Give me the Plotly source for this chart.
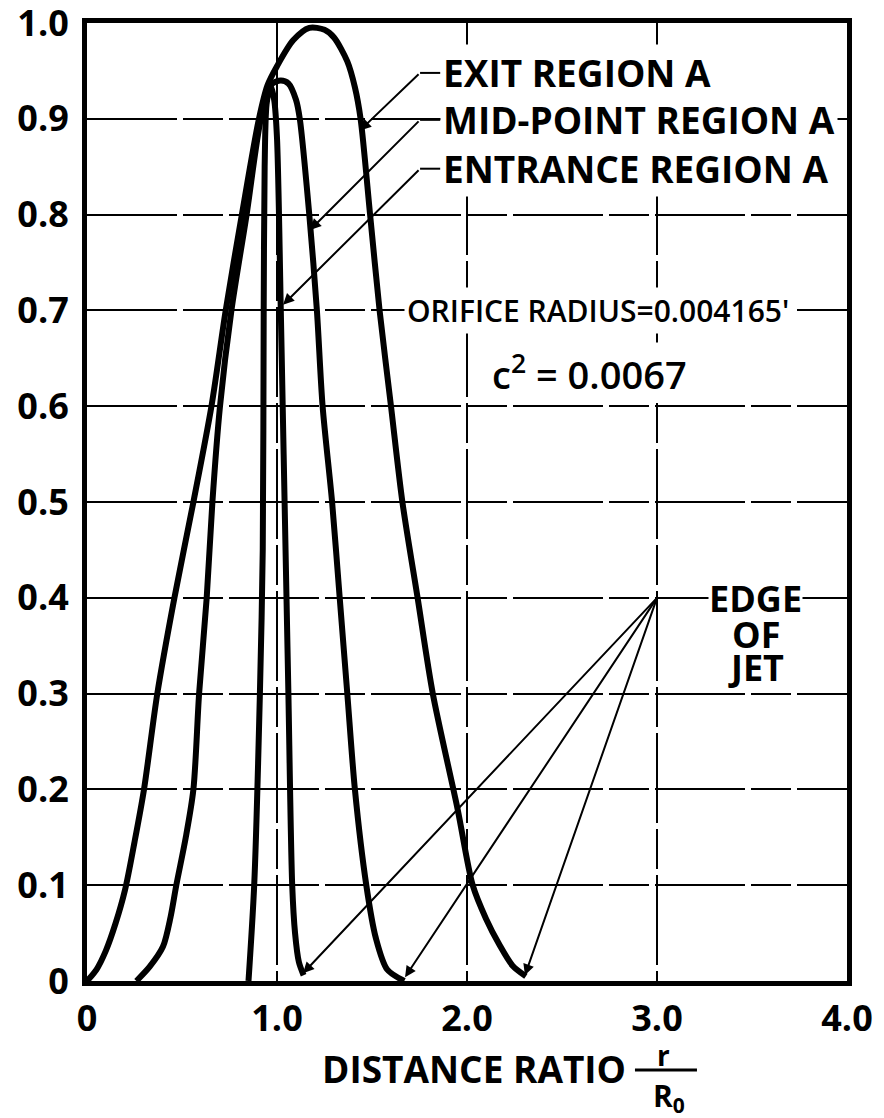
import plotly.graph_objects as go

# ---------------- data ----------------
exit_x = [0.00, 0.05, 0.10, 0.15, 0.20, 0.25, 0.30, 0.37, 0.46, 0.56, 0.655, 0.73, 0.815, 0.905, 0.95, 1.00,
          1.085, 1.17, 1.25, 1.30, 1.37, 1.41, 1.44, 1.49, 1.54, 1.60, 1.66, 1.74, 1.82, 1.95,
          2.03, 2.10, 2.17, 2.24, 2.31]
exit_y = [0.000, 0.012, 0.032, 0.060, 0.095, 0.145, 0.200, 0.300, 0.400, 0.500, 0.600, 0.700, 0.800, 0.900, 0.935, 0.955,
          0.982, 0.995, 0.993, 0.985, 0.960, 0.933, 0.900, 0.800, 0.700, 0.600, 0.500, 0.400, 0.300, 0.180,
          0.100, 0.065, 0.038, 0.016, 0.005]

mid_x = [0.26, 0.33, 0.40, 0.44, 0.47, 0.52, 0.56, 0.59, 0.63, 0.66, 0.70, 0.76, 0.84, 0.915,
         0.97, 1.02, 1.06, 1.10, 1.12, 1.17, 1.21, 1.24, 1.29, 1.33, 1.37, 1.41, 1.47, 1.52,
         1.58, 1.67]
mid_y = [0.000, 0.015, 0.036, 0.067, 0.100, 0.150, 0.200, 0.300, 0.400, 0.500, 0.600, 0.700, 0.800, 0.900,
         0.936, 0.940, 0.937, 0.920, 0.900, 0.800, 0.700, 0.600, 0.500, 0.400, 0.300, 0.200, 0.100, 0.045,
         0.012, 0.000]

ent_x = [0.85, 0.88, 0.91, 0.925, 0.93, 0.935, 0.945, 0.965, 0.985, 1.00, 1.02, 1.03, 1.04,
         1.05, 1.06, 1.08, 1.095, 1.115, 1.14]
ent_y = [0.000, 0.100, 0.300, 0.450, 0.700, 0.850, 0.915, 0.935, 0.920, 0.880, 0.700, 0.600, 0.500,
         0.400, 0.300, 0.100, 0.050, 0.020, 0.006]

x_tickvals = [0, 1, 2, 3, 4]
x_ticktext = ["0", "1.0", "2.0", "3.0", "4.0"]
y_tickvals = [0, 0.1, 0.2, 0.3, 0.4, 0.5, 0.6, 0.7, 0.8, 0.9, 1.0]
y_ticktext = ["0", "0.1", "0.2", "0.3", "0.4", "0.5", "0.6", "0.7", "0.8", "0.9", "1.0"]

curve_labels = ["EXIT REGION A", "MID-POINT REGION A", "ENTRANCE REGION A"]
edge_label = ["EDGE", "OF", "JET"]

# ---------------- layout / positions ----------------
FONT = "Open Sans"
fig = go.Figure()

for xs, ys in [(exit_x, exit_y), (mid_x, mid_y), (ent_x, ent_y)]:
    fig.add_trace(go.Scatter(x=xs, y=ys, mode="lines",
                             line=dict(color="black", width=6, shape="spline", smoothing=0.8),
                             showlegend=False, hoverinfo="skip"))

annotations = []
shapes = []

# curve labels with leader lines (corner -> tip on curve)
label_pos = [  # text-left x, y, corner x, tip x, tip y
    (1.86, 0.948, 1.753, 1.437, 0.888),
    (1.86, 0.899, 1.753, 1.174, 0.784),
    (1.86, 0.848, 1.753, 1.032, 0.706),
]
for txt, (tx, ty, cx, px, py) in zip(curve_labels, label_pos):
    annotations.append(dict(x=tx, y=ty, xref="x", yref="y", text=txt, showarrow=False,
                            xanchor="left", yanchor="middle", bgcolor="white", borderpad=2,
                            font=dict(family=FONT, size=37, color="black", weight=700)))
    annotations.append(dict(x=px, y=py, xref="x", yref="y", ax=cx, ay=ty, axref="x", ayref="y",
                            text="", showarrow=True, arrowhead=2, arrowsize=1.1, arrowwidth=2,
                            arrowcolor="black", standoff=0, startstandoff=0))
    shapes.append(dict(type="line", xref="x", yref="y", x0=cx, x1=tx, y0=ty, y1=ty,
                       line=dict(color="black", width=2)))

annotations.append(dict(x=2.69, y=0.700, xref="x", yref="y", text="ORIFICE RADIUS=0.004165'",
                        showarrow=False, xanchor="center", yanchor="middle", bgcolor="white", borderpad=2,
                        font=dict(family=FONT, size=30, color="black", weight=600)))
annotations.append(dict(x=2.647, y=0.635, xref="x", yref="y", text="c<sup>2</sup> = 0.0067",
                        showarrow=False, xanchor="center", yanchor="middle", bgcolor="white", borderpad=2,
                        font=dict(family=FONT, size=38, color="black", weight=600)))

# edge of jet
edge_y = [0.399, 0.362, 0.327]
for txt, ey in zip(edge_label, edge_y):
    annotations.append(dict(x=3.52, y=ey, xref="x", yref="y", text=txt, showarrow=False,
                            xanchor="center", yanchor="middle", bgcolor="white" if txt == "EDGE" else None,
                            borderpad=0, font=dict(family=FONT, size=36, color="black", weight=700)))
edge_tips = [(1.137, 0.008), (1.674, 0.004), (2.305, 0.006)]
for px, py in edge_tips:
    annotations.append(dict(x=px, y=py, xref="x", yref="y", ax=3.0, ay=0.4, axref="x", ayref="y",
                            text="", showarrow=True, arrowhead=2, arrowsize=1.1, arrowwidth=2,
                            arrowcolor="black", standoff=0, startstandoff=0))

# x-axis title with fraction r / R0
annotations.append(dict(x=0.7118, y=-0.091, xref="paper", yref="paper", text="DISTANCE RATIO",
                        showarrow=False, xanchor="right", yanchor="middle",
                        font=dict(family=FONT, size=37, color="black", weight=700)))
annotations.append(dict(x=0.758, y=-0.077, xref="paper", yref="paper", text="r",
                        showarrow=False, xanchor="center", yanchor="middle",
                        font=dict(family=FONT, size=28, color="black", weight=700)))
annotations.append(dict(x=0.766, y=-0.121, xref="paper", yref="paper", text="R<sub>0</sub>",
                        showarrow=False, xanchor="center", yanchor="middle",
                        font=dict(family=FONT, size=30, color="black", weight=700)))
shapes.append(dict(type="line", xref="paper", yref="paper", x0=0.721, x1=0.8026, y0=-0.0929, y1=-0.0929,
                   line=dict(color="black", width=3)))

axis_common = dict(showline=True, linecolor="black", linewidth=5, mirror=True,
                   showgrid=True, gridcolor="black", gridwidth=1.6, griddash="90px,6px,40px,6px",
                   zeroline=False, ticks="outside", tickcolor="rgba(0,0,0,0)",
                   ticklabeloverflow="allow", automargin=False,
                   tickfont=dict(family=FONT, size=36, color="black", weight=700))

fig.update_layout(
    width=884, height=1118,
    margin=dict(l=87, r=37, t=23, b=137, autoexpand=False),
    paper_bgcolor="white", plot_bgcolor="white",
    xaxis=dict(range=[0, 4], tickvals=x_tickvals, ticktext=x_ticktext, ticklen=2, **axis_common),
    yaxis=dict(range=[0, 1.0001], tickvals=y_tickvals, ticktext=y_ticktext, ticklen=6, **axis_common),
    annotations=annotations, shapes=shapes, showlegend=False,
)

fig.write_html("out.html")
